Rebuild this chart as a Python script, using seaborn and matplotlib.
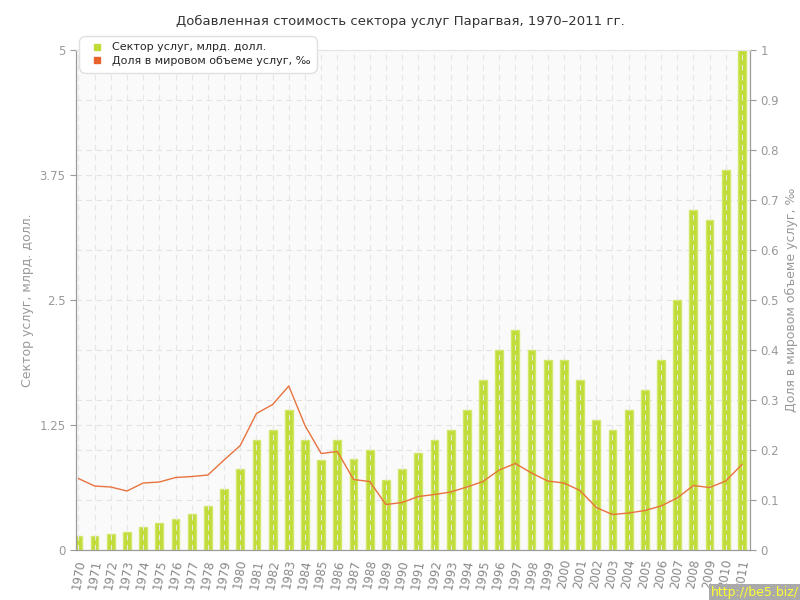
import numpy as np
import matplotlib
matplotlib.use("Agg")
import matplotlib.pyplot as plt
import seaborn as sns
import pandas as pd

years = [str(y) for y in range(1970, 2012)]
services_bn = [0.14, 0.14, 0.16, 0.18, 0.23, 0.27, 0.31, 0.36, 0.44, 0.61,
               0.81, 1.10, 1.20, 1.40, 1.10, 0.90, 1.10, 0.91, 1.00, 0.70,
               0.81, 0.97, 1.10, 1.20, 1.40, 1.70, 2.00, 2.20, 2.00, 1.90,
               1.90, 1.70, 1.30, 1.20, 1.40, 1.60, 1.90, 2.50, 3.40, 3.30,
               3.80, 5.00]
world_share = [0.143, 0.128, 0.126, 0.118, 0.134, 0.136, 0.145, 0.147, 0.150, 0.180,
               0.209, 0.273, 0.291, 0.328, 0.249, 0.193, 0.197, 0.141, 0.137, 0.091,
               0.095, 0.107, 0.111, 0.116, 0.126, 0.137, 0.160, 0.173, 0.154, 0.138,
               0.134, 0.119, 0.085, 0.071, 0.074, 0.079, 0.088, 0.104, 0.129, 0.125,
               0.138, 0.171]

df = pd.DataFrame({"Year": years, "Services": services_bn, "Share": world_share})

sns.set_style("white")
plt.rcParams['font.family'] = ['DejaVu Sans']

GREEN = "#bfdc38"
ORANGE = "#e8733f"
GRAY = "#999999"

fig = plt.figure(figsize=(8, 6), dpi=100)
ax = fig.add_axes([0.095, 0.0833, 0.8425, 0.8334])
ax.set_facecolor("#fafafa")

sns.barplot(data=df, x="Year", y="Services", color=GREEN, width=0.48,
            edgecolor="#d2e76a", linewidth=1, saturation=1, ax=ax)
ax.set_xlim(-0.15, 41.5)
ax.set_ylim(0, 5)
ax.set_yticks([0, 1.25, 2.5, 3.75, 5])
ax.set_yticklabels(["0", "1.25", "2.5", "3.75", "5"])
ax.set_xlabel("")
ax.set_ylabel("Сектор услуг, млрд. долл.", color=GRAY, fontsize=9)
ax.tick_params(axis="x", labelrotation=80, labelsize=8.5, colors=GRAY,
               length=4, pad=2)
ax.tick_params(axis="y", labelsize=8.5, colors=GRAY, length=4, left=True)
for lab in ax.get_xticklabels():
    lab.set_color("#888888")

# grid: vertical at each year, horizontal on both scales
ax.set_axisbelow(False)
ax.xaxis.grid(True, color="#e6e6e6", linestyle=(0, (5, 4)), linewidth=0.8)
for v in np.arange(0.5, 5.0, 0.5):
    ax.axhline(v, color="#e3e3e3", linestyle=(0, (5, 4)), linewidth=0.8, zorder=0.5)
for v in [1.25, 3.75]:
    ax.axhline(v, color="#e3e3e3", linestyle=(0, (5, 4)), linewidth=0.8, zorder=0.5)

for s in ["left", "right", "bottom"]:
    ax.spines[s].set_color("#9a9a9a")
ax.spines["top"].set_color("#e6e6e6")

ax2 = ax.twinx()
sns.lineplot(x=np.arange(len(years)), y=df["Share"], color=ORANGE,
             linewidth=1, ax=ax2)
ax2.set_ylim(0, 1)
ax2.set_yticks(np.round(np.arange(0, 1.01, 0.1), 1))
ax2.set_yticklabels(["0", "0.1", "0.2", "0.3", "0.4", "0.5", "0.6",
                     "0.7", "0.8", "0.9", "1"])
ax2.set_ylabel("Доля в мировом объеме услуг, ‰", color=GRAY, fontsize=9)
ax2.tick_params(axis="y", labelsize=8.5, colors=GRAY, length=4, right=True)
for lab in ax2.get_yticklabels():
    lab.set_color(GRAY)
for lab in ax.get_yticklabels():
    lab.set_color(GRAY)
for s in ["left", "right", "bottom"]:
    ax2.spines[s].set_color("#9a9a9a")
ax2.spines["top"].set_color("#e6e6e6")

fig.suptitle("Добавленная стоимость сектора услуг Парагвая, 1970–2011 гг.",
             y=0.975, fontsize=9.5, color="#333333")

handles = [plt.Line2D([], [], marker="s", linestyle="", color=GREEN, markersize=5),
           plt.Line2D([], [], marker="s", linestyle="", color="#e8632b", markersize=5)]
leg = ax2.legend(handles, ["Сектор услуг, млрд. долл.", "Доля в мировом объеме услуг, ‰"],
                 loc="upper left", bbox_to_anchor=(0.0, 1.035), fontsize=8,
                 frameon=True, fancybox=True, framealpha=1, edgecolor="#e0e0e0",
                 handletextpad=0.3, borderpad=0.4, labelspacing=0.35)
leg.get_frame().set_boxstyle("round,pad=0.2,rounding_size=0.6")

fig.text(0.999, 0.002, "http://be5.biz/", ha="right", va="bottom", fontsize=9,
         color="#ffff33", bbox=dict(facecolor="#aaaaaa", edgecolor="none", pad=1.5))

fig.savefig("out.png", dpi=100)
